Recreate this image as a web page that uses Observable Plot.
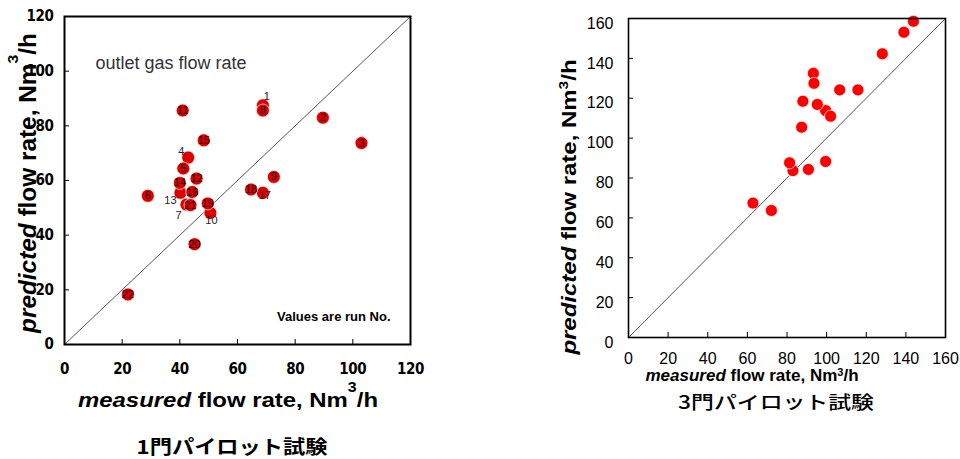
<!DOCTYPE html>
<html>
<head>
<meta charset="utf-8">
<script src="https://cdn.jsdelivr.net/npm/d3@7"></script>
<script src="https://cdn.jsdelivr.net/npm/@observablehq/plot@0.6"></script>
<style>
  html, body { margin: 0; padding: 0; background: #fff; }
  #page { position: relative; width: 960px; height: 459px; overflow: hidden; }
  #left, #right { position: absolute; top: 0; }
  #left { left: 0; }
  #right { left: 480px; }
  #titles { position: absolute; left: 0; top: 0; pointer-events: none; }
  #titles text { font-family: "Liberation Sans", Arial, sans-serif; fill: #000; }
  #titles .cjk { font-family: "Noto Sans CJK JP", sans-serif; }
  #left g[aria-label$="tick label"] text { letter-spacing: -0.4px; }
</style>
</head>
<body>
<div id="page">
  <div id="left"></div>
  <div id="right"></div>
  <svg id="titles" width="960" height="459">
    <!-- single-gate chart: axis titles and caption -->
    <text transform="translate(228,407) scale(1.14,1)" text-anchor="middle" font-size="21" font-weight="bold"><tspan font-style="italic">measured</tspan> flow rate, Nm<tspan dy="-15" font-size="14">3</tspan><tspan dy="15">/h</tspan></text>
    <text transform="translate(36,183) rotate(-90) scale(1.06,1)" text-anchor="middle" font-size="23" font-weight="bold"><tspan font-style="italic">predicted</tspan> flow rate, Nm<tspan dy="-18" font-size="15">3</tspan><tspan dy="18">/h</tspan></text>
    <text class="cjk" transform="translate(232,454) scale(1.17,1)" text-anchor="middle" font-size="19" font-weight="bold">1門パイロット試験</text>
    <!-- three-gate chart: axis titles and caption -->
    <text transform="translate(752,381)" text-anchor="middle" font-size="17" font-weight="bold"><tspan font-style="italic">measured</tspan> flow rate, Nm<tspan dy="-5" font-size="11">3</tspan><tspan dy="5">/h</tspan></text>
    <text class="cjk" transform="translate(776,409) scale(1.27,1)" text-anchor="middle" font-size="18" font-weight="500">3門パイロット試験</text>
    <text transform="translate(576,207) rotate(-90) scale(1.2,1)" text-anchor="middle" font-size="20" font-weight="bold"><tspan font-style="italic">predicted</tspan> flow rate, Nm<tspan dy="-8" font-size="13">3</tspan><tspan dy="8">/h</tspan></text>
  </svg>
</div>
<script>
// ---- single-gate pilot test: outlet gas flow rate, runs 1-22 ----
const runNo = [1, 2, 3, 4, 5, 6, 7, 8, 9, 10, 11, 12, 13, 14, 15, 16, 17, 18, 19, 20, 21, 22];
const measured1 = [68.8, 89.6, 103.0, 42.9, 41.2, 28.9, 42.3, 68.8, 72.6, 50.6, 41.0, 45.8, 40.2, 40.0, 48.3, 44.3, 68.8, 64.7, 49.7, 45.1, 43.7, 22.0];
const predicted1 = [87.5, 83.0, 73.7, 68.4, 64.4, 54.4, 51.2, 85.6, 61.3, 48.1, 85.6, 60.7, 55.5, 59.1, 74.7, 55.8, 55.5, 56.7, 51.6, 36.7, 51.0, 18.3];
const ticks1 = [0, 20, 40, 60, 80, 100, 120];
const note1 = "outlet gas flow rate";
const note2 = "Values are run No.";

// ---- three-gate pilot test ----
const measured3 = [99.5, 143.8, 139.0, 128.1, 93.3, 93.6, 106.6, 115.8, 88.0, 95.3, 102.0, 87.4, 99.5, 83.0, 81.3, 90.8, 62.8, 72.1];
const predicted3 = [113.8, 158.6, 153.1, 142.3, 132.5, 127.5, 124.2, 124.2, 118.5, 116.9, 111.0, 105.5, 88.3, 83.7, 87.6, 84.3, 67.4, 63.7];
const ticks3 = [0, 20, 40, 60, 80, 100, 120, 140, 160];

const runs = runNo.map((n, i) => ({run: n, measured: measured1[i], predicted: predicted1[i]}));
const runs3 = measured3.map((m, i) => ({measured: m, predicted: predicted3[i]}));

// run numbers whose label sits beside the dot rather than on it
const nudge = {1: [4, -9], 4: [-7, -6], 13: [-10, 8], 7: [-8, 11], 10: [1, 7], 17: [2, 3]};

const latin = "'Liberation Sans', Arial, sans-serif";
const condensed = "'DejaVu Sans Condensed', 'Liberation Sans Narrow', 'Arial Narrow', sans-serif";

const runLabels = [
  Plot.text(runs.filter(d => !(d.run in nudge)), {
    x: "measured", y: "predicted", text: "run",
    fontSize: 11, fill: "#1a0000", fontFamily: latin
  }),
  ...Object.entries(nudge).map(([n, [dx, dy]]) =>
    Plot.text(runs.filter(d => d.run === +n), {
      x: "measured", y: "predicted", text: "run", dx, dy,
      fontSize: 11, fill: "#222", fontFamily: latin
    })
  )
];

const left = Plot.plot({
  width: 440,
  height: 400,
  marginLeft: 64,
  marginRight: 30,
  marginTop: 16,
  marginBottom: 56,
  x: {domain: [0, 120]},
  y: {domain: [0, 120]},
  style: {background: "transparent", color: "#000", fontFamily: latin},
  marks: [
    Plot.line(ticks1.filter((t, i) => i === 0 || i === ticks1.length - 1), {x: d => d, y: d => d, stroke: "#555", strokeWidth: 1}),
    Plot.axisX(ticks1, {tickSize: -5, fill: "none", label: null, strokeWidth: 1}),
    Plot.axisY(ticks1, {tickSize: -5, fill: "none", label: null, strokeWidth: 1}),
    Plot.axisX(ticks1, {tickSize: 0, tickPadding: 19, label: null, fontSize: 15, fontWeight: "bold", fontFamily: condensed}),
    Plot.axisY(ticks1, {tickSize: 0, tickPadding: 11, label: null, fontSize: 15, fontWeight: "bold", fontFamily: condensed}),
    Plot.dot(runs, {x: "measured", y: "predicted", r: 6.5, fill: "#dd0000", stroke: "#fff", strokeWidth: 0.7}),
    ...runLabels,
    Plot.text([note1], {frameAnchor: "top-left", dx: 31, dy: 40, textAnchor: "start", fontSize: 18, fill: "#333"}),
    Plot.text([note2], {frameAnchor: "bottom-right", dx: -20, dy: -24, textAnchor: "end", fontSize: 13, fontWeight: "bold", fill: "#000"}),
    Plot.frame({stroke: "#000", strokeWidth: 2})
  ]
});
document.getElementById("left").append(left);

const right = Plot.plot({
  width: 480,
  height: 400,
  marginLeft: 148,
  marginRight: 15,
  marginTop: 18,
  marginBottom: 63,
  x: {domain: [0, 160]},
  y: {domain: [0, 160]},
  style: {background: "transparent", color: "#000", fontFamily: latin},
  marks: [
    Plot.line(ticks3.filter((t, i) => i === 0 || i === ticks3.length - 1), {x: d => d, y: d => d, stroke: "#555", strokeWidth: 1}),
    Plot.axisX(ticks3, {tickSize: -5, fill: "none", label: null, strokeWidth: 1}),
    Plot.axisY(ticks3, {tickSize: -5, fill: "none", label: null, strokeWidth: 1}),
    Plot.axisX(ticks3, {tickSize: 0, tickPadding: 15, label: null, fontSize: 16}),
    Plot.axisY(ticks3, {tickSize: 0, tickPadding: 15, dy: 5, label: null, fontSize: 16}),
    Plot.dot(runs3, {x: "measured", y: "predicted", r: 6, fill: "#ff0000", stroke: "#fff", strokeWidth: 0.7}),
    Plot.frame({stroke: "#000", strokeWidth: 1.6})
  ]
});
document.getElementById("right").append(right);
</script>
</body>
</html>
